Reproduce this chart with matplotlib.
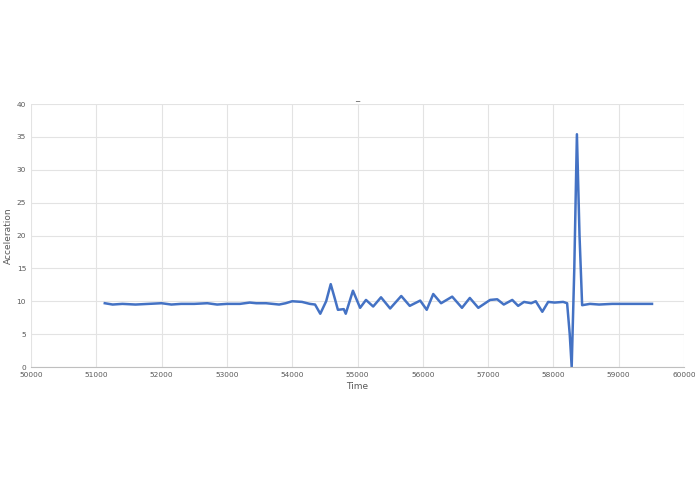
import matplotlib.pyplot as plt

time = [51130, 51250, 51400, 51600, 51800, 52000, 52150, 52300, 52500, 52700, 52850,
        53000, 53200, 53350, 53450, 53600, 53800, 53900, 54000, 54150, 54270, 54350,
        54430, 54520, 54590, 54650, 54700, 54790, 54820, 54930, 55040, 55130, 55240,
        55360, 55500, 55670, 55800, 55960, 56060, 56160, 56280, 56450, 56600, 56720,
        56850, 57030, 57140, 57240, 57370, 57460, 57550, 57660, 57730, 57830, 57920,
        58020, 58150, 58210, 58250, 58280, 58320, 58360, 58400, 58440, 58560, 58700,
        58900, 59100, 59300, 59510]
accel = [9.7, 9.5, 9.6, 9.5, 9.6, 9.7, 9.5, 9.6, 9.6, 9.7, 9.5,
         9.6, 9.6, 9.8, 9.7, 9.7, 9.5, 9.7, 10.0, 9.9, 9.6, 9.5,
         8.1, 10.0, 12.6, 10.5, 8.7, 8.8, 8.1, 11.6, 9.0, 10.2, 9.2,
         10.6, 8.9, 10.8, 9.3, 10.1, 8.7, 11.1, 9.7, 10.7, 9.0, 10.5,
         9.0, 10.2, 10.3, 9.5, 10.2, 9.3, 9.9, 9.7, 10.0, 8.4, 9.9,
         9.8, 9.9, 9.7, 5.0, 0.0, 15.0, 35.4, 20.0, 9.4, 9.6, 9.5,
         9.6, 9.6, 9.6, 9.6]

fig = plt.figure(figsize=(6.95, 4.94), dpi=100)
ax = fig.add_axes([31/695, 1 - 367/494, 653/695, 263/494])
ax.plot(time, accel, color='#4472C4', linewidth=1.8)
ax.set_xlim(50000, 60000)
ax.set_ylim(0, 40)
ax.set_xticks(range(50000, 60001, 1000))
ax.set_yticks(range(0, 41, 5))
ax.grid(True, color='#E3E3E3', linewidth=0.8)
ax.set_axisbelow(True)
for s in ['top', 'right', 'left']:
    ax.spines[s].set_visible(False)
ax.spines['bottom'].set_color('#BFBFBF')
ax.tick_params(length=0, labelsize=5.3, colors='#595959')
ax.set_xlabel('Time', fontsize=6.5, color='#595959', labelpad=3)
ax.set_ylabel('Acceleration', fontsize=6.5, color='#595959', labelpad=3)
ax.set_title('_', fontsize=6, color='#595959', pad=3)
fig.savefig('out.png')
